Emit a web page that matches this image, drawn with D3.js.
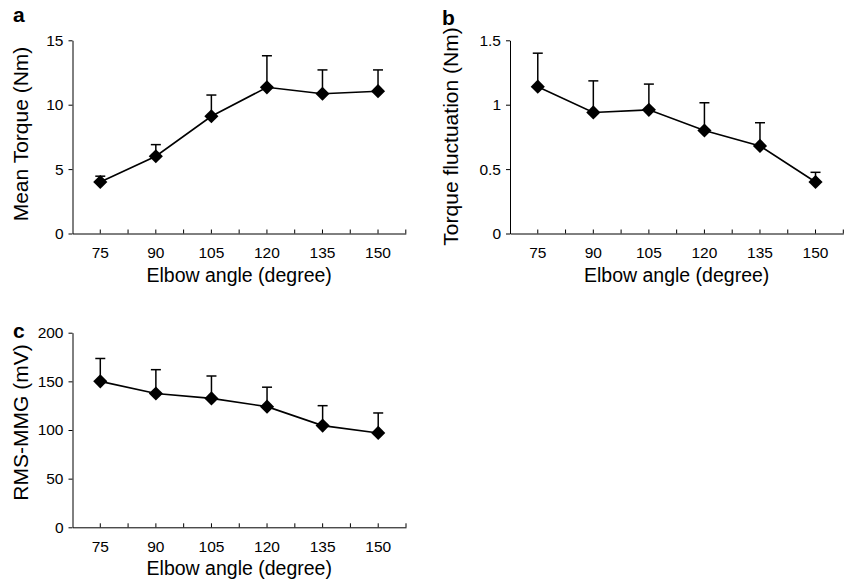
<!DOCTYPE html>
<html>
<head>
<meta charset="utf-8">
<script src="https://cdn.jsdelivr.net/npm/d3@7"></script>
<style>
  body { margin: 0; background: #fff; }
  svg { display: block; }
  text { font-family: Arial, "Liberation Sans", sans-serif; fill: #000; }
</style>
</head>
<body>
<svg id="fig" width="850" height="585"></svg>
<script>
// data
const angles = [75, 90, 105, 120, 135, 150];

const meanTorque   = [4.0, 6.0, 9.1, 11.35, 10.85, 11.05];
const meanTorqueSD = [0.45, 0.9, 1.65, 2.45, 1.85, 1.65];
const torqueTicks  = [0, 5, 10, 15];

const torqueFluct   = [1.14, 0.94, 0.96, 0.80, 0.68, 0.40];
const torqueFluctSD = [0.26, 0.245, 0.20, 0.215, 0.18, 0.075];
const fluctTicks    = [0, 0.5, 1, 1.5];

const rmsMmg   = [150, 137.5, 132.5, 124, 104.5, 97];
const rmsMmgSD = [23.5, 24.5, 23, 20, 20.5, 20.5];
const mmgTicks = [0, 50, 100, 150, 200];

const svg = d3.select("#fig");

const panels = [
  {letter: "a", lx: 13, ly: 21.5, left: 72.5, right: 405.8, top: 40.3, bottom: 233.5,
   yx: 27.5, yy: 134, values: meanTorque, sd: meanTorqueSD, ticks: torqueTicks,
   ylabel: "Mean Torque (Nm)"},
  {letter: "b", lx: 442, ly: 25, left: 510, right: 843.3, top: 40.3, bottom: 233.5,
   yx: 457.5, yy: 136.5, values: torqueFluct, sd: torqueFluctSD, ticks: fluctTicks,
   ylabel: "Torque fluctuation (Nm)"},
  {letter: "c", lx: 13, ly: 338, left: 72.5, right: 406, top: 332.7, bottom: 527.3,
   yx: 27.5, yy: 422.5, values: rmsMmg, sd: rmsMmgSD, ticks: mmgTicks,
   ylabel: "RMS-MMG (mV)"}
];

panels.forEach(drawPanel);

function drawPanel(p) {
  const x = d3.scaleBand().domain(angles).range([p.left, p.right]).padding(0),
    y = d3.scaleLinear().domain([0, d3.max(p.ticks)]).range([p.bottom, p.top]),
    cx = d => x(d) + x.bandwidth() / 2,
    g = svg.append("g");

  // y axis
  g.append("g")
    .attr("transform", `translate(${p.left},0)`)
    .call(d3.axisLeft(y).tickValues(p.ticks).tickSize(4).tickSizeOuter(0).tickPadding(5)
      .tickFormat(d3.format("")))
    .call(a => a.selectAll("text").style("font-size", "15.5px"));

  // x axis, ticks pointing in
  g.append("g")
    .attr("transform", `translate(0,${p.bottom})`)
    .call(d3.axisBottom(x).tickSize(-4).tickSizeOuter(0).tickPadding(13.5))
    .call(a => a.selectAll("text").style("font-size", "15.5px"));

  // extra ticks on the band edges
  g.append("g").selectAll("line")
    .data(angles)
    .join("line")
      .attr("x1", d => x(d) + x.bandwidth())
      .attr("x2", d => x(d) + x.bandwidth())
      .attr("y1", p.bottom)
      .attr("y2", p.bottom - 4)
      .attr("stroke", "#000");

  g.selectAll(".domain, .tick line").attr("stroke", "#000");

  const pts = angles.map((a, i) => ({a: a, v: p.values[i], e: p.sd[i]}));

  // error bars (upper only)
  const err = g.append("g").attr("stroke", "#000").attr("stroke-width", 1.5);
  err.selectAll(".stem")
    .data(pts)
    .join("line")
      .attr("x1", d => cx(d.a)).attr("x2", d => cx(d.a))
      .attr("y1", d => y(d.v)).attr("y2", d => y(d.v + d.e));
  err.selectAll(".cap")
    .data(pts)
    .join("line")
      .attr("x1", d => cx(d.a) - 5).attr("x2", d => cx(d.a) + 5)
      .attr("y1", d => y(d.v + d.e)).attr("y2", d => y(d.v + d.e));

  g.append("path")
    .datum(pts)
    .attr("fill", "none")
    .attr("stroke", "#000")
    .attr("stroke-width", 1.6)
    .attr("d", d3.line().x(d => cx(d.a)).y(d => y(d.v)));

  g.selectAll(".mark")
    .data(pts)
    .join("path")
      .attr("transform", d => `translate(${cx(d.a)},${y(d.v)}) rotate(45)`)
      .attr("d", d3.symbol(d3.symbolSquare, 100))
      .attr("fill", "#000");

  // titles
  g.append("text")
    .attr("x", (p.left + p.right) / 2)
    .attr("y", p.bottom + 48)
    .attr("text-anchor", "middle")
    .style("font-size", "19.5px")
    .text("Elbow angle (degree)");

  g.append("text")
    .attr("transform", `translate(${p.yx},${p.yy}) rotate(-90)`)
    .attr("text-anchor", "middle")
    .style("font-size", "21px")
    .text(p.ylabel);

  g.append("text")
    .attr("x", p.lx)
    .attr("y", p.ly)
    .style("font-size", "21px")
    .style("font-weight", "bold")
    .text(p.letter);
}
</script>
</body>
</html>
